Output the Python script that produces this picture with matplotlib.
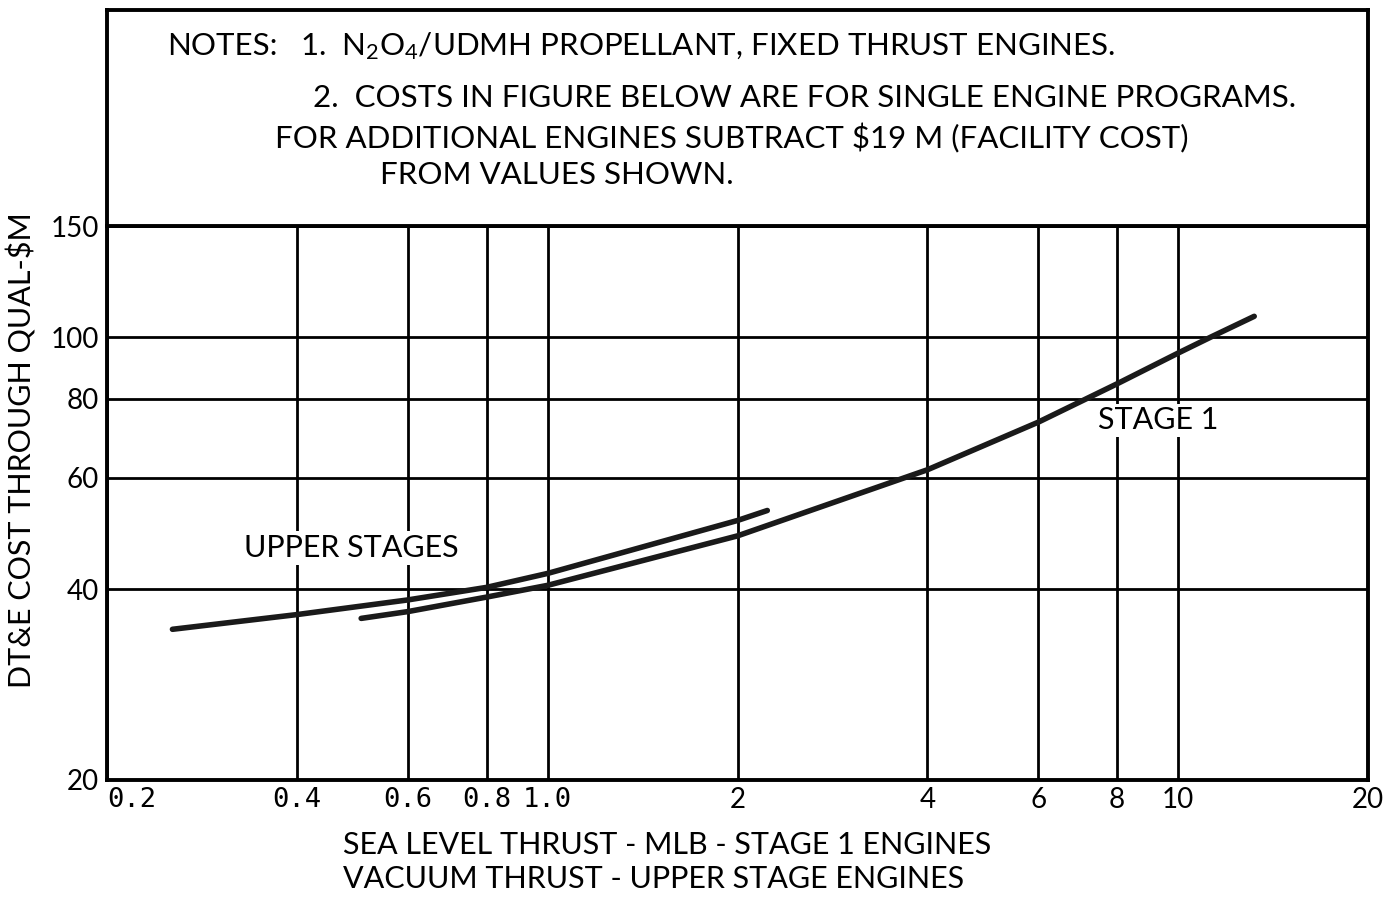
import matplotlib
matplotlib.use("Agg")
import matplotlib.pyplot as plt
from matplotlib.ticker import FixedLocator, FixedFormatter, NullLocator

plt.rcParams["font.family"] = ["Lato", "DejaVu Sans"]
plt.rcParams["mathtext.fontset"] = "custom"
plt.rcParams["mathtext.rm"] = "Lato"
plt.rcParams["mathtext.default"] = "regular"

# thrust (MLB) vs development cost ($M)
upper_x = [0.254, 0.4, 0.6, 0.8, 1.0, 2.0, 2.23]
upper_y = [34.6, 36.5, 38.5, 40.3, 42.4, 51.4, 53.3]

stage1_x = [0.506, 0.6, 0.8, 1.0, 2.0, 4.0, 6.0, 8.0, 10.0, 11.3, 13.2]
stage1_y = [36.0, 36.9, 38.9, 40.6, 48.6, 61.8, 73.5, 84.5, 94.5, 100.3, 108.0]

xticks = [0.2, 0.4, 0.6, 0.8, 1.0, 2, 4, 6, 8, 10, 20]
xlabels = ["0.2", "0.4", "0.6", "0.8", "1.0", "2", "4", "6", "8", "10", "20"]
yticks = [20, 40, 60, 80, 100, 150]
ylabels = ["20", "40", "60", "80", "100", "150"]

W, H = 1388, 898
fig = plt.figure(figsize=(W / 100, H / 100), dpi=100)

left, right = 107 / W, 1368 / W
bottom, top = 1 - 780 / H, 1 - 226 / H
ax = fig.add_axes([left, bottom, right - left, top - bottom])

ax.set_xscale("log")
ax.set_yscale("log")
ax.set_xlim(0.2, 20)
ax.set_ylim(20, 150)

ax.xaxis.set_major_locator(FixedLocator(xticks))
ax.xaxis.set_major_formatter(FixedFormatter(xlabels))
ax.xaxis.set_minor_locator(NullLocator())
ax.yaxis.set_major_locator(FixedLocator(yticks))
ax.yaxis.set_major_formatter(FixedFormatter(ylabels))
ax.yaxis.set_minor_locator(NullLocator())

ax.grid(True, which="major", color="black", linewidth=2.0)
ax.tick_params(axis="x", length=0, labelsize=20, pad=5)
ax.tick_params(axis="y", length=0, labelsize=20, pad=6)
for lbl in ax.get_xticklabels():
    if "." in lbl.get_text():
        lbl.set_fontfamily("DejaVu Sans Mono")
        lbl.set_fontsize(19.5)
ax.get_xticklabels()[0].set_horizontalalignment("left")
for s in ax.spines.values():
    s.set_linewidth(2.8)

ax.plot(upper_x, upper_y, color="#1a1a1a", linewidth=4.0, solid_capstyle="round")
ax.plot(stage1_x, stage1_y, color="#1a1a1a", linewidth=4.0, solid_capstyle="round")

box = dict(facecolor="white", edgecolor="none", pad=2)
ax.text(0.489, 46.5, "UPPER STAGES", fontsize=22, ha="center", va="center", bbox=box)
ax.text(9.3, 74.0, "STAGE 1", fontsize=22, ha="center", va="center", bbox=box)

# notes panel above the plot
nax = fig.add_axes([left, top, right - left, (1 - 10 / H) - top])
nax.set_xticks([])
nax.set_yticks([])
for s in nax.spines.values():
    s.set_linewidth(2.8)


def fx(px):
    return px / W


def fy(py):
    return 1 - py / H


note = dict(fontsize=22.5, va="baseline")
fig.text(fx(167), fy(55), "NOTES:", **note)
fig.text(fx(300), fy(55), "1.  $N_2O_4$/UDMH PROPELLANT, FIXED THRUST ENGINES.", **note)
fig.text(fx(313), fy(107), "2.  COSTS IN FIGURE BELOW ARE FOR SINGLE ENGINE PROGRAMS.", **note)
fig.text(fx(275), fy(148), "FOR ADDITIONAL ENGINES SUBTRACT \\$19 M (FACILITY COST)", **note)
fig.text(fx(380), fy(184), "FROM VALUES SHOWN.", **note)

fig.text(fx(343), fy(854), "SEA LEVEL THRUST - MLB - STAGE 1 ENGINES", fontsize=22, va="baseline")
fig.text(fx(343), fy(888), "VACUUM THRUST - UPPER STAGE ENGINES", fontsize=22, va="baseline")
fig.text(fx(22), fy(450), "DT&E COST THROUGH QUAL-\\$M", fontsize=22, rotation=90,
         ha="center", va="center")

fig.savefig("out.png", dpi=100)
